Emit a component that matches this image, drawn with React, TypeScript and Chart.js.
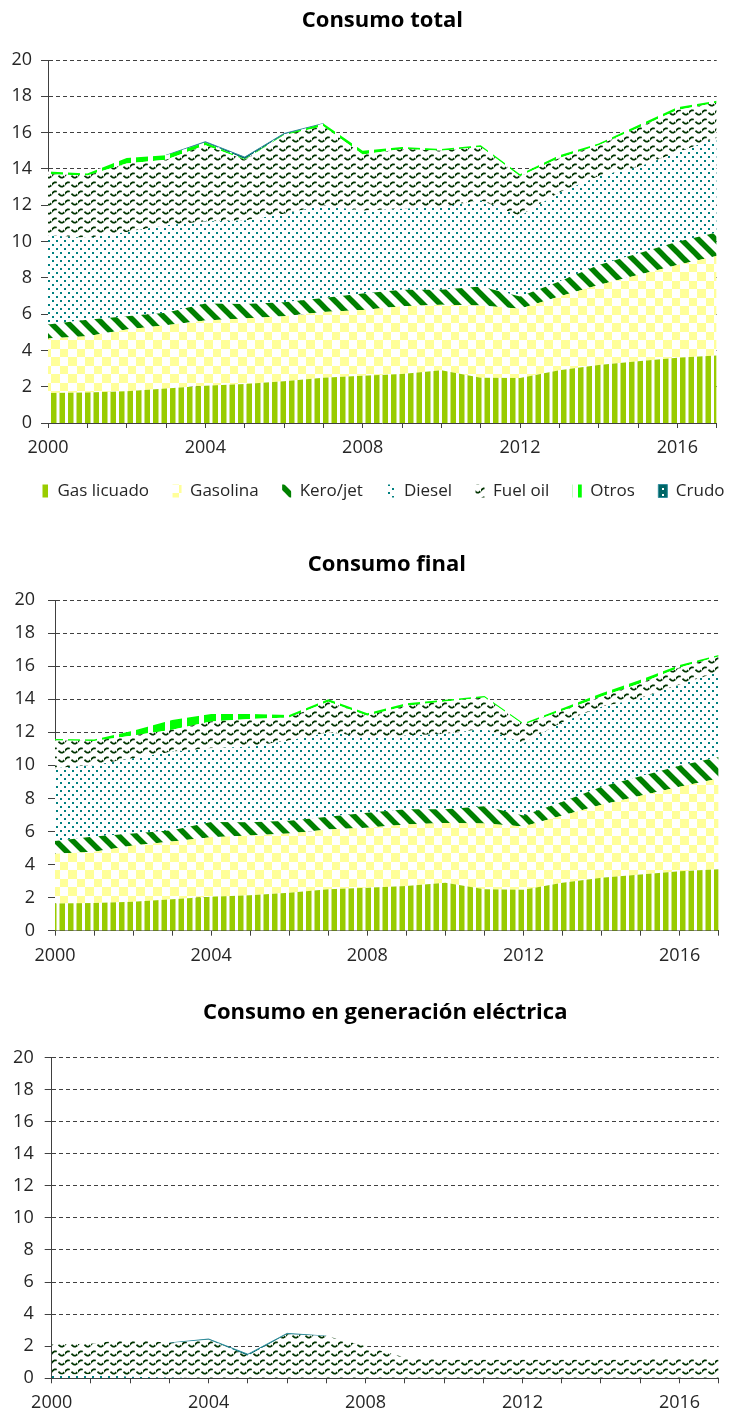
import React, { useEffect, useRef } from "react";
import { Chart, registerables } from "chart.js";

Chart.register(...registerables);
Chart.defaults.font.family = "'Open Sans', sans-serif";

// ---------- DATA ----------
const years = [2000, 2001, 2002, 2003, 2004, 2005, 2006, 2007, 2008, 2009, 2010, 2011, 2012, 2013, 2014, 2015, 2016, 2017];
const xLabelYears = [2000, 2004, 2008, 2012, 2016];
const seriesNames = ["Gas licuado", "Gasolina", "Kero/jet", "Diesel", "Fuel oil", "Otros", "Crudo"];
const chartTitles = ["Consumo total", "Consumo final", "Consumo en generación eléctrica"];

// Consumo total
const totalLicuado = [1.65, 1.68, 1.75, 1.9, 2.05, 2.15, 2.3, 2.5, 2.6, 2.7, 2.9, 2.5, 2.48, 2.9, 3.2, 3.4, 3.6, 3.72];
const totalGasolina = [3.01, 3.1, 3.4, 3.49, 3.6, 3.61, 3.58, 3.62, 3.62, 3.73, 3.62, 3.98, 3.82, 4.07, 4.41, 4.76, 5.1, 5.48];
const totalKero = [0.77, 0.91, 0.73, 0.68, 0.93, 0.8, 0.77, 0.77, 0.91, 0.91, 0.82, 1.04, 0.67, 0.83, 1.09, 1.18, 1.28, 1.3];
const totalDiesel = [4.91, 4.5, 4.65, 4.82, 4.52, 4.6, 4.88, 5.09, 4.57, 4.46, 4.56, 4.74, 4.43, 4.9, 4.9, 4.76, 4.92, 5.2];
const totalFuel = [3.36, 3.45, 3.77, 3.61, 4.2, 3.34, 4.32, 4.37, 3.1, 3.3, 3.1, 2.94, 2.2, 1.9, 1.7, 2.15, 2.35, 1.95];
const totalOtros = [0.15, 0.1, 0.3, 0.25, 0.15, 0.05, 0.05, 0.15, 0.2, 0.1, 0.1, 0.1, 0.1, 0.15, 0.1, 0.15, 0.15, 0.1];
const totalCrudo = [0, 0, 0, 0, 0.05, 0.1, 0.05, 0, 0, 0, 0, 0, 0, 0, 0, 0, 0, 0];

// Consumo final
const finalLicuado = [1.65, 1.68, 1.75, 1.9, 2.05, 2.15, 2.3, 2.5, 2.6, 2.7, 2.9, 2.5, 2.48, 2.9, 3.2, 3.4, 3.6, 3.72];
const finalGasolina = [3.01, 3.1, 3.4, 3.49, 3.6, 3.61, 3.58, 3.62, 3.62, 3.73, 3.62, 3.98, 3.82, 4.07, 4.41, 4.76, 5.1, 5.48];
const finalKero = [0.77, 0.91, 0.73, 0.68, 0.93, 0.8, 0.77, 0.77, 0.91, 0.91, 0.82, 1.04, 0.67, 0.83, 1.09, 1.18, 1.28, 1.3];
const finalDiesel = [4.4, 4.33, 4.55, 4.76, 4.46, 4.58, 4.85, 5.09, 4.57, 4.46, 4.56, 4.7, 4.38, 4.8, 4.85, 4.72, 4.9, 5.15];
const finalFuel = [1.67, 1.45, 1.37, 1.32, 1.61, 1.66, 1.4, 1.87, 1.3, 1.81, 1.96, 1.88, 1.1, 0.7, 0.61, 0.91, 1.04, 0.93];
const finalOtros = [0.1, 0.1, 0.3, 0.6, 0.45, 0.3, 0.15, 0.15, 0.15, 0.15, 0.1, 0.1, 0.1, 0.15, 0.2, 0.2, 0.15, 0.1];
const finalCrudo = [0, 0, 0, 0, 0, 0, 0, 0, 0, 0, 0, 0, 0, 0, 0, 0, 0, 0];

// Consumo en generación eléctrica
const genLicuado = [0, 0, 0, 0, 0, 0, 0, 0, 0, 0, 0, 0, 0, 0, 0, 0, 0, 0];
const genGasolina = [0, 0, 0, 0, 0, 0, 0, 0, 0, 0, 0, 0, 0, 0, 0, 0, 0, 0];
const genKero = [0, 0, 0, 0, 0, 0, 0, 0, 0, 0, 0, 0, 0, 0, 0, 0, 0, 0];
const genDiesel = [0.2, 0.25, 0.1, 0.05, 0, 0, 0, 0, 0, 0, 0, 0, 0, 0, 0, 0, 0, 0];
const genFuel = [1.9, 1.9, 2.35, 2.15, 2.4, 1.4, 2.75, 2.63, 2.0, 1.3, 1.16, 1.16, 1.16, 1.16, 1.16, 1.16, 1.35, 1.16];
const genOtros = [0, 0, 0, 0, 0, 0, 0, 0, 0, 0, 0, 0, 0, 0, 0, 0, 0, 0];
const genCrudo = [0, 0, 0, 0, 0.05, 0.1, 0.05, 0, 0, 0, 0, 0, 0, 0, 0, 0, 0, 0];

const yMin = 0;
const yMax = 20;
const yStep = 2;

// ---------- STYLE ----------
const colors = {
  licuado: "#99CC00",
  gasolina: "#FFFF99",
  kero: "#008000",
  diesel: "#008080",
  fuel: "#003300",
  otros: "#00FF00",
  crudo: "#006666",
  crudoLine: "#2f8c9c",
  axis: "#404040",
  text: "#262626",
};

function tile(w: number, h: number, draw: (g: CanvasRenderingContext2D) => void) {
  const c = document.createElement("canvas");
  c.width = w;
  c.height = h;
  const g = c.getContext("2d")!;
  g.fillStyle = "#ffffff";
  g.fillRect(0, 0, w, h);
  draw(g);
  return c;
}

function makePatterns(ctx: CanvasRenderingContext2D) {
  const licuado = tile(17, 4, (g) => {
    g.fillStyle = colors.licuado;
    g.fillRect(0, 0, 5.5, 4);
    g.fillRect(8.5, 0, 5.5, 4);
  });
  const gasolina = tile(17, 17, (g) => {
    g.fillStyle = colors.gasolina;
    g.fillRect(0, 0, 9, 9);
    g.fillRect(9, 9, 8, 8);
  });
  const kero = tile(17, 17, (g) => {
    g.strokeStyle = colors.kero;
    g.lineWidth = 5.5;
    for (const o of [-17, 0, 17]) {
      g.beginPath();
      g.moveTo(o - 2, -2);
      g.lineTo(o + 19, 19);
      g.stroke();
    }
  });
  const diesel = tile(8, 8, (g) => {
    g.fillStyle = colors.diesel;
    g.fillRect(0, 0, 2, 2);
    g.fillRect(4, 4, 2, 2);
  });
  const fuel = tile(13, 9, (g) => {
    g.strokeStyle = colors.fuel;
    g.lineWidth = 1.8;
    g.setLineDash([7, 2.5]);
    g.beginPath();
    for (let x = -1; x <= 14; x += 0.5) {
      const y = 4.5 - 2.2 * Math.sin((2 * Math.PI * x) / 13);
      if (x === -1) g.moveTo(x, y);
      else g.lineTo(x, y);
    }
    g.stroke();
  });
  const otros = tile(17, 6, (g) => {
    g.fillStyle = colors.otros;
    g.fillRect(0, 0, 12, 6);
  });
  const crudo = tile(6, 6, (g) => {
    g.fillStyle = colors.crudo;
    g.fillRect(0, 0, 6, 6);
    g.fillStyle = "#ffffff";
    g.fillRect(2, 2, 2, 2);
  });
  return [licuado, gasolina, kero, diesel, fuel, otros, crudo].map(
    (c) => ctx.createPattern(c, "repeat") as CanvasPattern
  );
}

type Cfg = {
  height: number;
  yWidth: number;
  rightWidth: number;
  titleTop: number;
  titleBottom: number;
  xHeight: number;
  padBottom: number;
  yPad: number;
  legend: boolean;
  legendShift: number;
};

function StackChart({ title, series, cfg }: { title: string; series: number[][]; cfg: Cfg }) {
  const ref = useRef<HTMLCanvasElement | null>(null);
  useEffect(() => {
    const ctx = ref.current!.getContext("2d")!;
    const patterns = makePatterns(ctx);
    const crudo = series[6];
    const datasets: any[] = seriesNames.map((name, i) => ({
      label: name,
      data: years.map((x, j) => ({ x, y: series[i][j] })),
      backgroundColor: patterns[i],
      borderColor: i === 6 ? colors.crudoLine : "rgba(0,0,0,0)",
      borderWidth: i === 6 ? 1 : 0,
      fill: i === 0 ? "origin" : "-1",
      pointRadius: 0,
      pointHoverRadius: 0,
      tension: 0,
      segment:
        i === 6
          ? {
              borderColor: (c: any) =>
                crudo[c.p0DataIndex] > 0 || crudo[c.p1DataIndex] > 0 ? colors.crudoLine : "rgba(0,0,0,0)",
            }
          : undefined,
    }));

    const legendShift = {
      id: "legendShift",
      afterLayout(chart: any) {
        if (chart.legend && cfg.legendShift) {
          chart.legend.left += cfg.legendShift;
          chart.legend.right += cfg.legendShift;
        }
      },
    };

    const chart = new Chart(ctx, {
      type: "line",
      data: { datasets },
      plugins: [legendShift],
      options: {
        animation: false,
        responsive: false,
        devicePixelRatio: 1,
        events: [],
        layout: { padding: { left: 0, right: 0, top: 0, bottom: cfg.padBottom } },
        plugins: {
          title: {
            display: true,
            text: title,
            fullSize: false,
            color: "#000000",
            font: { size: 22, weight: "bold" },
            padding: { top: cfg.titleTop, bottom: cfg.titleBottom },
          },
          legend: cfg.legend
            ? {
                display: true,
                position: "bottom",
                align: "start",
                labels: {
                  font: { size: 17 },
                  color: colors.text,
                  boxWidth: 9,
                  boxHeight: 13,
                  padding: 23.5,
                },
              }
            : { display: false },
          tooltip: { enabled: false },
        },
        scales: {
          x: {
            type: "linear",
            min: years[0],
            max: years[years.length - 1],
            afterFit: (s: any) => {
              s.height = cfg.xHeight;
            },
            ticks: {
              stepSize: 1,
              autoSkip: false,
              maxRotation: 0,
              padding: 9,
              color: colors.text,
              font: { size: 18 },
              callback: (v: any) => (xLabelYears.includes(Number(v)) ? String(v) : ""),
            },
            grid: { drawOnChartArea: false, drawTicks: true, tickLength: 5, color: colors.axis },
            border: { color: colors.axis, width: 1 },
          },
          y: {
            stacked: true,
            min: yMin,
            max: yMax,
            afterFit: (s: any) => {
              s.width = cfg.yWidth;
            },
            ticks: {
              stepSize: yStep,
              padding: cfg.yPad,
              color: colors.text,
              font: { size: 18 },
            },
            grid: { color: colors.axis, lineWidth: 1, drawTicks: true, tickLength: 7, tickColor: colors.axis },
            border: { color: colors.axis, width: 1, dash: [4, 3] },
          },
          yRight: {
            position: "right",
            display: true,
            afterFit: (s: any) => {
              s.width = cfg.rightWidth;
            },
            ticks: { display: false },
            grid: { display: false },
            border: { display: false },
          },
        },
      } as any,
    });
    return () => chart.destroy();
  }, []);
  return <canvas ref={ref} width={732} height={cfg.height} style={{ display: "block" }} />;
}

const cfgTotal: Cfg = {
  height: 530, yWidth: 48, rightWidth: 15.3, titleTop: 8, titleBottom: 25.6,
  xHeight: 36, padBottom: 20.5, yPad: 9, legend: true, legendShift: 16.5,
};
const cfgFinal: Cfg = {
  height: 450, yWidth: 55, rightWidth: 13.3, titleTop: 21.8, titleBottom: 21.8,
  xHeight: 49.3, padBottom: 0, yPad: 13, legend: false, legendShift: 0,
};
const cfgGen: Cfg = {
  height: 434, yWidth: 51.7, rightWidth: 13.3, titleTop: 19.8, titleBottom: 31.3,
  xHeight: 35.7, padBottom: 0, yPad: 11, legend: false, legendShift: 0,
};

export default function App() {
  return (
    <div style={{ position: "absolute", left: 0, top: 0, width: 732, background: "#fff" }}>
      <StackChart
        title={chartTitles[0]}
        series={[totalLicuado, totalGasolina, totalKero, totalDiesel, totalFuel, totalOtros, totalCrudo]}
        cfg={cfgTotal}
      />
      <StackChart
        title={chartTitles[1]}
        series={[finalLicuado, finalGasolina, finalKero, finalDiesel, finalFuel, finalOtros, finalCrudo]}
        cfg={cfgFinal}
      />
      <StackChart
        title={chartTitles[2]}
        series={[genLicuado, genGasolina, genKero, genDiesel, genFuel, genOtros, genCrudo]}
        cfg={cfgGen}
      />
    </div>
  );
}
